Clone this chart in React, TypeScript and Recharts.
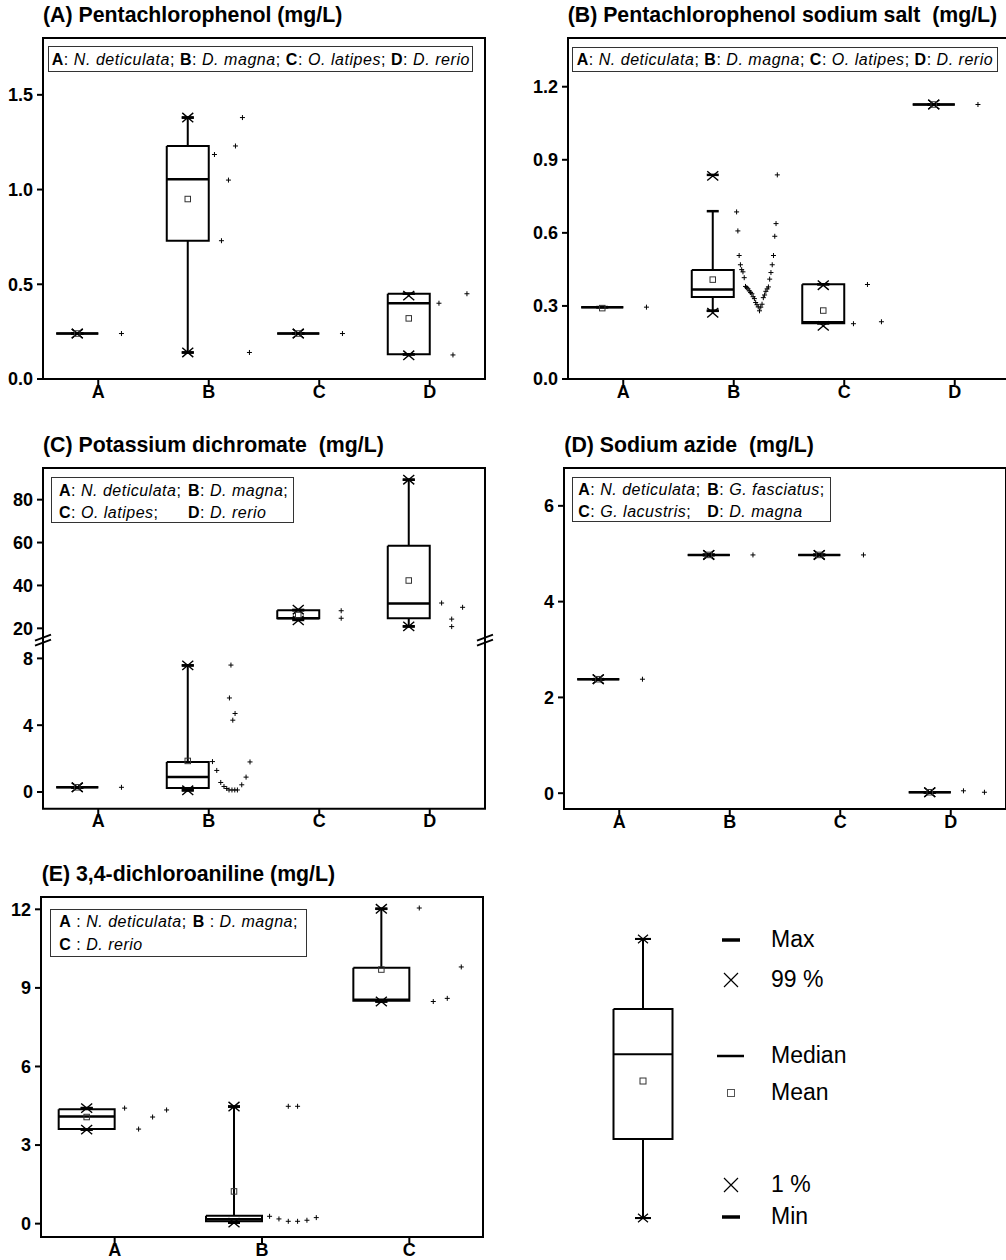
import React from 'react';
import { ComposedChart, Line, Scatter, XAxis, YAxis, ReferenceArea, ReferenceDot } from 'recharts';

const FONT = '"Liberation Sans", Arial, Helvetica, sans-serif';

// ---------------- (A) Pentachlorophenol ----------------
const A_CATS = ['A', 'B', 'C', 'D'];
const A_SPECIES = ['N. deticulata', 'D. magna', 'O. latipes', 'D. rerio'];
const A_TICKS = [0, 0.5, 1.0, 1.5];
const A_Q1 = [0.24, 0.73, 0.24, 0.13];
const A_MED = [0.24, 1.055, 0.24, 0.4];
const A_Q3 = [0.24, 1.23, 0.24, 0.45];
const A_MEAN = [0.24, 0.95, 0.24, 0.32];
const A_WLO = [0.24, 0.14, 0.24, 0.13];
const A_WHI = [0.24, 1.38, 0.24, 0.45];
const A_MIN = [0.24, 0.14, 0.24, 0.13];
const A_MAX = [0.24, 1.38, 0.24, 0.45];
const A_P1 = [0.24, 0.14, 0.24, 0.125];
const A_P99 = [0.24, 1.38, 0.24, 0.44];
const A_PTS = [[0.24], [1.185, 0.73, 1.05, 1.23, 1.38, 0.14], [0.24], [0.4, 0.127, 0.45]];
const A_SLOTS = [null, null, null, null];

// ---------------- (B) Pentachlorophenol sodium salt ----------------
const B_CATS = ['A', 'B', 'C', 'D'];
const B_SPECIES = ['N. deticulata', 'D. magna', 'O. latipes', 'D. rerio'];
const B_TICKS = [0, 0.3, 0.6, 0.9, 1.2];
const B_Q1 = [0.295, 0.337, 0.229, 1.127];
const B_MED = [0.295, 0.367, 0.233, 1.127];
const B_Q3 = [0.295, 0.447, 0.389, 1.127];
const B_MEAN = [0.291, 0.408, 0.281, 1.127];
const B_WLO = [0.295, 0.28, 0.229, 1.127];
const B_WHI = [0.295, 0.689, 0.389, 1.127];
const B_MIN = [null, 0.28, 0.229, 1.127];
const B_MAX = [null, 0.838, 0.389, 1.127];
const B_P1 = [null, 0.272, 0.218, 1.127];
const B_P99 = [null, 0.834, 0.385, 1.127];
const B_PTS = [
  [0.295],
  [0.686, 0.608, 0.507, 0.469, 0.449, 0.44, 0.416, 0.38, 0.375, 0.37, 0.362, 0.355, 0.35, 0.338, 0.33, 0.314, 0.305,
    0.296, 0.28, 0.295, 0.307, 0.334, 0.345, 0.36, 0.37, 0.378, 0.41, 0.437, 0.469, 0.507, 0.586, 0.638, 0.838],
  [0.227, 0.388, 0.235],
  [1.127],
];
const B_SLOTS = [null, null, null, null];

// ---------------- (C) Potassium dichromate (broken axis) ----------------
const C_CATS = ['A', 'B', 'C', 'D'];
const C_SPECIES = ['N. deticulata', 'D. magna', 'O. latipes', 'D. rerio'];
const C_TICKS = [0, 4, 8, 20, 40, 60, 80];
const C_Q1 = [0.28, 0.24, 24.65, 24.65];
const C_MED = [0.28, 0.89, 24.65, 31.6];
const C_Q3 = [0.28, 1.79, 28.4, 58.5];
const C_MEAN = [0.28, 1.86, 26.2, 42.3];
const C_WLO = [0.28, 0.1, 24.65, 20.9];
const C_WHI = [0.28, 7.58, 28.4, 89.3];
const C_MIN = [0.28, 0.1, 23.9, 20.9];
const C_MAX = [0.28, 7.58, 28.6, 89.3];
const C_P1 = [0.28, 0.1, 23.7, 20.9];
const C_P99 = [0.28, 7.58, 28.7, 89.3];
const C_PTS = [
  [0.28],
  [1.82, 1.29, 0.57, 0.33, 0.21, 0.12, 5.63, 7.6, 0.12, 4.3, 0.12, 4.7, 0.12, 0.43, 0.89, 1.8],
  [28.2, 24.7],
  [31.8, 24.3, 20.8, 29.8],
];
const C_SLOTS = [
  null,
  [0.036, 0.138, 0.233, 0.31, 0.376, 0.43, 0.44, 0.476, 0.5, 0.52, 0.567, 0.574, 0.63, 0.733, 0.836, 0.93],
  [0.47, 0.47],
  [0.23, 0.47, 0.47, 0.73],
];

// ---------------- (D) Sodium azide ----------------
const D_CATS = ['A', 'B', 'C', 'D'];
const D_SPECIES = ['N. deticulata', 'G. fasciatus', 'G. lacustris', 'D. magna'];
const D_TICKS = [0, 2, 4, 6];
const D_VAL = [2.38, 4.975, 4.975, 0.02];
const D_PTS = [[2.38], [4.975], [4.975], [0.05, 0.02]];
const D_SLOTS = [null, null, null, null];

// ---------------- (E) 3,4-dichloroaniline ----------------
const E_CATS = ['A', 'B', 'C'];
const E_SPECIES = ['N. deticulata', 'D. magna', 'D. rerio'];
const E_TICKS = [0, 3, 6, 9, 12];
const E_Q1 = [3.61, 0.09, 8.51];
const E_MED = [4.09, 0.17, 8.55];
const E_Q3 = [4.37, 0.3, 9.77];
const E_MEAN = [4.07, 1.23, 9.7];
const E_WLO = [3.59, 0.04, 8.48];
const E_WHI = [4.41, 4.47, 12.02];
const E_MIN = [3.59, 0.04, 8.48];
const E_MAX = [4.41, 4.47, 12.02];
const E_P1 = [3.59, 0.04, 8.48];
const E_P99 = [4.41, 4.47, 12.02];
const E_PTS = [[4.41, 3.61, 4.07, 4.34], [0.28, 0.18, 4.48, 0.09, 4.48, 0.09, 0.13, 0.23], [12.05, 8.48, 8.6, 9.8]];
const E_SLOTS = [null, [0.083, 0.25, 0.417, 0.417, 0.583, 0.583, 0.75, 0.917], null];

// ---------------- Key (legend) ----------------
const KEY_Q1 = [2.83];
const KEY_MED = [5.87];
const KEY_Q3 = [7.49];
const KEY_MEAN = [4.91];
const KEY_LO = [0];
const KEY_HI = [10];
const KEY_LABELS = ['Max', '99 %', 'Median', 'Mean', '1 %', 'Min'];

const TITLES = [
  '(A) Pentachlorophenol (mg/L)',
  '(B) Pentachlorophenol sodium salt  (mg/L)',
  '(C) Potassium dichromate  (mg/L)',
  '(D) Sodium azide  (mg/L)',
  '(E) 3,4-dichloroaniline (mg/L)',
];

// broken-axis transform for panel C (value -> plotted coordinate)
const C_D20 = 9.8;
const C_K = 0.1284;
const cTf = (v: number) => (v <= 12 ? v : C_D20 + (v - 20) * C_K);

const mk = (q1, med, q3, mean, wlo, whi, min, max, p1, p99) => ({ q1, med, q3, mean, wlo, whi, min, max, p1, p99 });

// ---------------- shapes ----------------
const makeDash = (len: number, th: number) => (p: any) =>
  p.cx == null ? <g /> : <line x1={p.cx - len / 2} x2={p.cx + len / 2} y1={p.cy} y2={p.cy} stroke="#000" strokeWidth={th} />;
const makeCross = (sz: number, th: number) => (p: any) => {
  if (p.cx == null) return <g />;
  const h = sz / 2;
  const v = h * 0.85;
  return (
    <path
      d={`M${p.cx - h},${p.cy - v}L${p.cx + h},${p.cy + v}M${p.cx - h},${p.cy + v}L${p.cx + h},${p.cy - v}`}
      stroke="#000"
      strokeWidth={th}
      fill="none"
    />
  );
};
const makePlus = (sz: number) => (p: any) => {
  if (p.cx == null) return <g />;
  const h = sz / 2;
  return (
    <path d={`M${p.cx - h},${p.cy}L${p.cx + h},${p.cy}M${p.cx},${p.cy - h}L${p.cx},${p.cy + h}`} stroke="#000" strokeWidth={1} fill="none" />
  );
};
const makeSquare = (sz: number) => (p: any) =>
  p.cx == null ? <g /> : <rect x={p.cx - sz / 2} y={p.cy - sz / 2} width={sz} height={sz} fill="none" stroke="#333" strokeWidth={1} />;
const makeBreak = () => (p: any) => {
  if (p.cx == null) return <g />;
  const { cx, cy } = p;
  return (
    <g>
      <line x1={cx - 8} y1={cy + 1} x2={cx + 8} y2={cy - 5} stroke="#000" strokeWidth={2} />
      <line x1={cx - 8} y1={cy + 6} x2={cx + 8} y2={cy} stroke="#000" strokeWidth={2} />
    </g>
  );
};

const YTick = (fmt: (v: number) => string) => (p: any) => (
  <text x={p.x} y={p.y} dy="0.355em" textAnchor="end" fill="#000" fontSize={18} fontWeight="bold" fontFamily={FONT}>
    {fmt(p.payload.value)}
  </text>
);
const XTick = (fmt: (v: number) => string) => (p: any) => (
  <text x={p.x} y={p.y} dy="0.71em" textAnchor="middle" fill="#000" fontSize={18} fontWeight="bold" fontFamily={FONT}>
    {fmt(p.payload.value)}
  </text>
);

function buildSeries(stats: any, pts: number[][], slots: any[], tf: (v: number) => number, geo: any) {
  const n = stats.q1.length;
  const box: any[] = [], whisk: any[] = [], med: any[] = [], dash: any[] = [], cross: any[] = [], mean: any[] = [], dots: any[] = [];
  for (let i = 0; i < n; i++) {
    const c = i + 0.5;
    const bl = c + geo.boxOff;
    const br = bl + geo.boxW;
    const wx = (bl + br) / 2;
    const q1 = tf(stats.q1[i]);
    const q3 = tf(stats.q3[i]);
    box.push({ x: bl, y: q3 }, { x: br, y: q3 }, { x: br, y: q1 }, { x: bl, y: q1 }, { x: bl, y: q3 }, { x: bl, y: null });
    whisk.push({ x: wx, y: tf(stats.wlo[i]) }, { x: wx, y: q1 }, { x: wx, y: null }, { x: wx, y: q3 }, { x: wx, y: tf(stats.whi[i]) }, { x: wx, y: null });
    const m = tf(stats.med[i]);
    med.push({ x: bl, y: m }, { x: br, y: m }, { x: br, y: null });
    [stats.wlo[i], stats.whi[i], stats.min[i], stats.max[i]].forEach((v) => {
      if (v != null) dash.push({ x: wx, y: tf(v) });
    });
    [stats.p1[i], stats.p99[i]].forEach((v) => {
      if (v != null) cross.push({ x: wx, y: tf(v) });
    });
    mean.push({ x: wx, y: tf(stats.mean[i]) });
    const list = pts ? pts[i] : [];
    list.forEach((v, k) => {
      const s = slots && slots[i] ? slots[i][k] : (k + 0.5) / list.length;
      dots.push({ x: c + geo.ptPad + s * geo.ptW, y: tf(v) });
    });
  }
  return { box, whisk, med, dash, cross, mean, dots };
}

const PANEL_GEO = { boxW: 0.38, boxOff: -0.38, ptPad: 0.02, ptW: 0.38 };

function BoxPanel({ frame, cats, stats, pts, slots, yDomain, yTicks, fmt, tf, breakAt }: any) {
  const T = tf || ((v: number) => v);
  const [x0, y0, x1, y1] = frame;
  const ML = 4, YW = 40, MT = 14, MR = 14, XH = 30, MB = 4;
  const w = ML + YW + (x1 - x0) + MR;
  const h = MT + (y1 - y0) + XH + MB;
  const n = cats.length;
  const s = buildSeries(stats, pts, slots, T, PANEL_GEO);
  const disp = yTicks.map(T);
  const yFmt = (d: number) => {
    const idx = disp.findIndex((t: number) => Math.abs(t - d) < 1e-6);
    return idx >= 0 ? fmt(yTicks[idx]) : '';
  };
  const xFmt = (v: number) => cats[Math.floor(v)];
  return (
    <div style={{ position: 'absolute', left: x0 - YW - ML, top: y0 - MT, width: w, height: h }}>
      <ComposedChart width={w} height={h} margin={{ top: MT, right: MR, bottom: MB, left: ML }}>
        <XAxis
          type="number"
          dataKey="x"
          domain={[0, n]}
          ticks={cats.map((_: any, i: number) => i + 0.5)}
          interval={0}
          height={XH}
          tickSize={6}
          tickMargin={0}
          axisLine={false}
          tickLine={{ stroke: '#000', strokeWidth: 2 }}
          tick={XTick(xFmt)}
        />
        <YAxis
          type="number"
          dataKey="y"
          domain={yDomain}
          ticks={disp}
          interval={0}
          width={YW}
          tickSize={6}
          tickMargin={4}
          axisLine={false}
          tickLine={{ stroke: '#000', strokeWidth: 2 }}
          tick={YTick(yFmt)}
        />
        <ReferenceArea x1={0} x2={n} y1={yDomain[0]} y2={yDomain[1]} fill="none" fillOpacity={0} stroke="#000" strokeWidth={2} />
        <Line data={s.whisk} dataKey="y" stroke="#000" strokeWidth={2} dot={false} activeDot={false} connectNulls={false} isAnimationActive={false} legendType="none" />
        <Line data={s.box} dataKey="y" stroke="#000" strokeWidth={2} dot={false} activeDot={false} connectNulls={false} isAnimationActive={false} legendType="none" />
        <Line data={s.med} dataKey="y" stroke="#000" strokeWidth={2.5} dot={false} activeDot={false} connectNulls={false} isAnimationActive={false} legendType="none" />
        <Scatter data={s.dash} shape={makeDash(12, 2.5)} isAnimationActive={false} legendType="none" />
        <Scatter data={s.cross} shape={makeCross(11, 1.4)} isAnimationActive={false} legendType="none" />
        <Scatter data={s.mean} shape={makeSquare(5.5)} isAnimationActive={false} legendType="none" />
        <Scatter data={s.dots} shape={makePlus(5)} isAnimationActive={false} legendType="none" />
        {breakAt != null && <ReferenceDot x={0} y={breakAt} ifOverflow="visible" shape={makeBreak()} />}
        {breakAt != null && <ReferenceDot x={n} y={breakAt} ifOverflow="visible" shape={makeBreak()} />}
      </ComposedChart>
    </div>
  );
}

function Title({ x, y, text }: any) {
  return (
    <div style={{ position: 'absolute', left: x, top: y, fontFamily: FONT, fontWeight: 700, fontSize: 21.3, lineHeight: '21.3px', whiteSpace: 'pre', color: '#000' }}>
      {text}
    </div>
  );
}

function SpeciesBox({ box, cats, species, sep, rows, padL, tops, col2, spacing }: any) {
  const [bx0, by0, bx1, by1] = box;
  const last = species.length - 1;
  const item = (i: number) => (
    <span key={i}>
      <b>{cats[i]}</b>
      {sep}
      <i>{species[i]}</i>
      {i < last ? ';' : ''}
    </span>
  );
  return (
    <div
      style={{
        position: 'absolute', left: bx0, top: by0, width: bx1 - bx0, height: by1 - by0, border: '1px solid #333',
        boxSizing: 'border-box', overflow: 'hidden', fontFamily: FONT, fontSize: 16, letterSpacing: spacing ?? 0.5, color: '#000',
        whiteSpace: 'pre', background: '#fff',
      }}
    >
      {rows.map((r: number[], ri: number) => (
        <div key={ri} style={{ position: 'absolute', left: padL, top: tops[ri], lineHeight: '20px', height: 20 }}>
          {col2 == null
            ? r.map((i, k) => <React.Fragment key={i}>{k > 0 ? ' ' : ''}{item(i)}</React.Fragment>)
            : r.map((i, k) => (
                <span key={i} style={{ position: 'absolute', left: k === 0 ? 0 : col2, top: 0 }}>
                  {item(i)}
                </span>
              ))}
        </div>
      ))}
    </div>
  );
}

function KeyPanel() {
  const stats = mk(KEY_Q1, KEY_MED, KEY_Q3, KEY_MEAN, KEY_LO, KEY_HI, KEY_LO, KEY_HI, KEY_LO, KEY_HI);
  const s = buildSeries(stats, [[]], [null], (v) => v, { boxW: 0.59, boxOff: -0.295, ptPad: 0, ptW: 0 });
  const ys = [940, 980, 1056, 1093, 1185, 1217];
  return (
    <>
      <div style={{ position: 'absolute', left: 593, top: 925, width: 100, height: 307 }}>
        <ComposedChart width={100} height={307} margin={{ top: 0, right: 0, bottom: 0, left: 0 }}>
          <XAxis type="number" dataKey="x" domain={[0, 1]} hide />
          <YAxis type="number" dataKey="y" domain={[-0.5, 10.5]} hide />
          <Line data={s.whisk} dataKey="y" stroke="#000" strokeWidth={2} dot={false} activeDot={false} connectNulls={false} isAnimationActive={false} legendType="none" />
          <Line data={s.box} dataKey="y" stroke="#000" strokeWidth={2} dot={false} activeDot={false} connectNulls={false} isAnimationActive={false} legendType="none" />
          <Line data={s.med} dataKey="y" stroke="#000" strokeWidth={2} dot={false} activeDot={false} connectNulls={false} isAnimationActive={false} legendType="none" />
          <Scatter data={s.dash} shape={makeDash(16, 2)} isAnimationActive={false} legendType="none" />
          <Scatter data={s.cross} shape={makeCross(10, 1.2)} isAnimationActive={false} legendType="none" />
          <Scatter data={s.mean} shape={makeSquare(6)} isAnimationActive={false} legendType="none" />
        </ComposedChart>
      </div>
      <svg style={{ position: 'absolute', left: 0, top: 0 }} width={1006} height={1260}>
        <line x1={722} x2={740} y1={ys[0]} y2={ys[0]} stroke="#000" strokeWidth={3.5} />
        <path d={`M${724},${ys[1] - 7}L${738},${ys[1] + 7}M${724},${ys[1] + 7}L${738},${ys[1] - 7}`} stroke="#000" strokeWidth={1.2} fill="none" />
        <line x1={717} x2={744} y1={ys[2]} y2={ys[2]} stroke="#000" strokeWidth={2.5} />
        <rect x={727.5} y={ys[3] - 3.5} width={7} height={7} fill="none" stroke="#555" strokeWidth={1} />
        <path d={`M${724},${ys[4] - 7}L${738},${ys[4] + 7}M${724},${ys[4] + 7}L${738},${ys[4] - 7}`} stroke="#000" strokeWidth={1.2} fill="none" />
        <line x1={722} x2={740} y1={ys[5]} y2={ys[5]} stroke="#000" strokeWidth={3.5} />
      </svg>
      {KEY_LABELS.map((t, i) => (
        <div key={t} style={{ position: 'absolute', left: 771, top: ys[i] - 12, fontFamily: FONT, fontSize: 23, lineHeight: '23px', whiteSpace: 'pre', color: '#000' }}>
          {t}
        </div>
      ))}
    </>
  );
}

export default function App() {
  const f1 = (v: number) => v.toFixed(1);
  const f0 = (v: number) => String(v);
  const statsA = mk(A_Q1, A_MED, A_Q3, A_MEAN, A_WLO, A_WHI, A_MIN, A_MAX, A_P1, A_P99);
  const statsB = mk(B_Q1, B_MED, B_Q3, B_MEAN, B_WLO, B_WHI, B_MIN, B_MAX, B_P1, B_P99);
  const statsC = mk(C_Q1, C_MED, C_Q3, C_MEAN, C_WLO, C_WHI, C_MIN, C_MAX, C_P1, C_P99);
  const statsD = mk(D_VAL, D_VAL, D_VAL, D_VAL, D_VAL, D_VAL, D_VAL, D_VAL, D_VAL, D_VAL);
  const statsE = mk(E_Q1, E_MED, E_Q3, E_MEAN, E_WLO, E_WHI, E_MIN, E_MAX, E_P1, E_P99);
  return (
    <div style={{ position: 'absolute', left: 0, top: 0, width: 1006, height: 1260, overflow: 'hidden', background: '#fff' }}>
      <Title x={43} y={5} text={TITLES[0]} />
      <Title x={567.7} y={5} text={TITLES[1]} />
      <Title x={43} y={435} text={TITLES[2]} />
      <Title x={564.3} y={435} text={TITLES[3]} />
      <Title x={41.7} y={864} text={TITLES[4]} />

      <BoxPanel frame={[43, 38, 485, 379]} cats={A_CATS} stats={statsA} pts={A_PTS} slots={A_SLOTS} yDomain={[0, 1.8]} yTicks={A_TICKS} fmt={f1} />
      <BoxPanel frame={[567.7, 38, 1009.7, 379]} cats={B_CATS} stats={statsB} pts={B_PTS} slots={B_SLOTS} yDomain={[0, 1.4]} yTicks={B_TICKS} fmt={f1} />
      <BoxPanel frame={[43, 468.3, 485, 809]} cats={C_CATS} stats={statsC} pts={C_PTS} slots={C_SLOTS} yDomain={[-1.0, 19.4]} yTicks={C_TICKS} fmt={f0} tf={cTf} breakAt={9.12} />
      <BoxPanel frame={[564, 468, 1006, 809]} cats={D_CATS} stats={statsD} pts={D_PTS} slots={D_SLOTS} yDomain={[-0.33, 6.79]} yTicks={D_TICKS} fmt={f0} />
      <BoxPanel frame={[41.3, 896.7, 483.3, 1236.7]} cats={E_CATS} stats={statsE} pts={E_PTS} slots={E_SLOTS} yDomain={[-0.51, 12.47]} yTicks={E_TICKS} fmt={f0} />

      <SpeciesBox box={[47.7, 46, 473.3, 72.3]} cats={A_CATS} species={A_SPECIES} sep=": " rows={[[0, 1, 2, 3]]} padL={3} tops={[3]} spacing={0.55} />
      <SpeciesBox box={[571.7, 47.3, 998.3, 72.3]} cats={B_CATS} species={B_SPECIES} sep=": " rows={[[0, 1, 2, 3]]} padL={4} tops={[2.2]} spacing={0.52} />
      <SpeciesBox box={[51, 476.7, 294, 523.3]} cats={C_CATS} species={C_SPECIES} sep=": " rows={[[0, 1], [2, 3]]} padL={7} tops={[3.3, 25]} col2={129} />
      <SpeciesBox box={[571.7, 476.7, 830.7, 522.3]} cats={D_CATS} species={D_SPECIES} sep=": " rows={[[0, 1], [2, 3]]} padL={5.6} tops={[2, 24]} col2={129} />
      <SpeciesBox box={[50, 909.3, 306.7, 956.7]} cats={E_CATS} species={E_SPECIES} sep=" : " rows={[[0, 1], [2]]} padL={8.3} tops={[2.2, 24.5]} col2={133.4} />

      <KeyPanel />
    </div>
  );
}
